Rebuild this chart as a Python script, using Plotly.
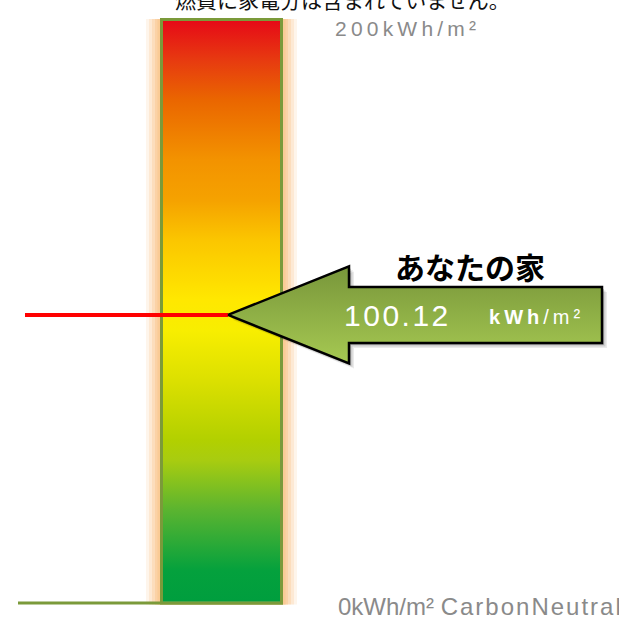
import plotly.graph_objects as go

# ---------------- data ----------------
scale_min = 0
scale_max = 200
value = 100.12
unit_text = "kWh/m²"
note_text = "燃費に家電分は含まれていません。"
house_label = "あなたの家"
top_label = "200kWh/m²"
bottom_unit = "0kWh/m²"
bottom_tag = "CarbonNeutral"
gradient_pos = [0.0, 0.053, 0.157, 0.243, 0.278, 0.381, 0.467, 0.519, 0.622, 0.691, 0.76, 0.864, 0.933, 1.0]
gradient_col = ["#009E3E", "#04A13D", "#5AB430", "#A8CC10", "#B2D000", "#DCE000", "#F8EE00",
                "#FFE800", "#FBC600", "#F5A200", "#F39300", "#EA6600", "#E73A10", "#E60A17"]

# ---------------- layout helpers ----------------
W, H = 619, 618
ZERO_PX, MAX_PX = 601.5, 29          # pixel rows of scale_min / scale_max
PX = (scale_max - scale_min) / (ZERO_PX - MAX_PX)   # data units per pixel
y_range = [scale_min - (H - ZERO_PX) * PX, scale_min + ZERO_PX * PX]
BAR_CAP = 8 * PX                      # bar drawn slightly past the scale maximum


def py(p):
    """pixel row -> data y (layout placement only)"""
    return scale_min + (ZERO_PX - p) * PX


def spaced(s, sp="\u2009"):
    return sp.join(s)


OLIVE = "#7B9A3A"
GLOW = "#FAC890"
BAR_X0, BAR_X1 = 163, 280
bar_top = scale_max + BAR_CAP

fig = go.Figure()

# gradient bar
fig.add_trace(go.Scatter(
    x=[BAR_X0, BAR_X1, BAR_X1, BAR_X0], y=[scale_min, scale_min, bar_top, bar_top],
    fill="toself", mode="none", hoverinfo="skip", showlegend=False,
    fillgradient=dict(type="vertical", colorscale=[[p, c] for p, c in zip(gradient_pos, gradient_col)]),
))

# value line
fig.add_trace(go.Scatter(
    x=[25, 228], y=[value, value], mode="lines", line=dict(color="#FF0000", width=4),
    hoverinfo="skip", showlegend=False,
))

# arrow geometry (relative to value)
tip_x, head_x, end_x = 228, 349, 602
head_h, body_h = 48.5, 28
ax = [tip_x, head_x, head_x, end_x, end_x, head_x, head_x, tip_x]
ay_px = [0, head_h, body_h, body_h, -body_h, -body_h, -head_h, 0]
ay = [value + d * PX for d in ay_px]

for off, alpha in [(5, 0.08), (3.5, 0.12), (2, 0.18)]:
    fig.add_trace(go.Scatter(
        x=[v + off for v in ax], y=[v - off * PX for v in ay], fill="toself", mode="none",
        fillcolor=f"rgba(0,0,0,{alpha})", hoverinfo="skip", showlegend=False,
    ))

fig.add_trace(go.Scatter(
    x=ax, y=ay, fill="toself", mode="lines", line=dict(color="#000000", width=2.5),
    fillgradient=dict(type="vertical", colorscale=[[0, "#A6C952"], [1, "#78963A"]]),
    hoverinfo="skip", showlegend=False,
))

shapes = []
# glow around bar
for pad, op in [(14, 0.18), (11, 0.25), (8, 0.35), (5, 0.5), (2.5, 0.7)]:
    shapes.append(dict(type="rect", xref="x", yref="y", layer="below",
                       x0=BAR_X0 - 3 - pad, x1=BAR_X1 + 3 + pad,
                       y0=scale_min - 3 * PX, y1=bar_top + 2 * PX,
                       fillcolor=GLOW, opacity=op, line=dict(width=0)))
# olive border
shapes.append(dict(type="rect", xref="x", yref="y", layer="below",
                   x0=BAR_X0 - 1.5, x1=BAR_X1 + 1.5,
                   y0=scale_min - 1.5 * PX, y1=bar_top + 1.5 * PX,
                   fillcolor="rgba(0,0,0,0)", line=dict(color=OLIVE, width=3)))
# baseline
shapes.append(dict(type="line", xref="x", yref="y", layer="below",
                   x0=18, x1=BAR_X1 + 3, y0=scale_min - 1.5 * PX, y1=scale_min - 1.5 * PX,
                   line=dict(color=OLIVE, width=3)))

LATIN = "Liberation Sans, Arial, sans-serif"
CJK = "Noto Sans CJK JP, sans-serif"
annotations = [
    dict(xref="x", yref="paper", x=342, y=1, yshift=1, text=note_text, showarrow=False,
         xanchor="center", yanchor="middle",
         font=dict(family=CJK, size=21, color="#111111")),
    dict(x=333, y=py(28), text=spaced(top_label), showarrow=False, xanchor="left", yanchor="middle",
         font=dict(family=LATIN, size=21, color="#8A8A8A")),
    dict(x=336, y=py(606), text=bottom_unit + " " + spaced(bottom_tag, "\u200a"), showarrow=False,
         xanchor="left", yanchor="middle", font=dict(family=LATIN, size=24, color="#8A8A8A")),
    dict(x=470, y=value + 49 * PX, text=house_label, showarrow=False, xanchor="center",
         yanchor="middle", font=dict(family=CJK, size=30, color="#000000", weight="bold")),
    dict(x=342, y=value - 1 * PX, text=spaced(f"{value:.2f}", "\u200a"), showarrow=False,
         xanchor="left", yanchor="middle", font=dict(family=LATIN, size=30, color="#FFFFFF")),
    dict(x=487, y=value - 2 * PX,
         text="<b>" + spaced(unit_text[:3]) + "</b>\u2009" + spaced(unit_text[3:]),
         showarrow=False, xanchor="left", yanchor="middle",
         font=dict(family=LATIN, size=20, color="#FFFFFF")),
]

fig.update_layout(
    width=W, height=H, margin=dict(l=0, r=0, t=0, b=0),
    paper_bgcolor="white", plot_bgcolor="white",
    xaxis=dict(range=[0, W], visible=False, fixedrange=True),
    yaxis=dict(range=y_range, visible=False, fixedrange=True),
    shapes=shapes, annotations=annotations, showlegend=False,
)

fig.write_html("out.html", config={"displayModeBar": False},
               post_script="document.body.style.margin='0';document.body.style.overflow='hidden';")
